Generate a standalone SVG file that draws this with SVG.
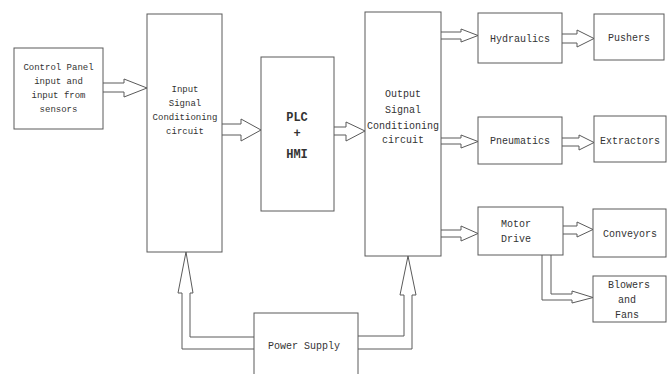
<svg xmlns="http://www.w3.org/2000/svg" width="670" height="374" viewBox="0 0 670 374">
<style>
  .box { fill: #ffffff; stroke: #5a5a5a; stroke-width: 1; }
  .arr { fill: #ffffff; stroke: #5a5a5a; stroke-width: 1; stroke-linejoin: miter; }
  text { font-family: "Liberation Mono", "DejaVu Sans Mono", monospace; fill: #333333; text-anchor: middle; }
  .s9 { font-size: 9px; }
  .s10 { font-size: 10px; }
  .big { font-size: 12px; font-weight: bold; }
</style>
<rect width="670" height="374" fill="#ffffff"/>
<g id="connectors">
  <path class="arr" d="M103,83 H124 V79 L147,88 L124,97 V92 H103"/>
  <path class="arr" d="M222,124 H241 V119 L261,130 L241,141 V135 H222"/>
  <path class="arr" d="M334,127 H346 V122 L365,131 L346,141 V135 H334"/>
  <path class="arr" d="M441,32 H461 V29 L478,35.5 L461,42 V39 H441"/>
  <path class="arr" d="M562,34 H577 V30 L594,38.5 L577,47 V43 H562"/>
  <path class="arr" d="M441,138 H461 V135 L478,141.5 L461,148 V144 H441"/>
  <path class="arr" d="M562,138 H579 V135 L594,142.5 L579,150 V146 H562"/>
  <path class="arr" d="M441,230 H461 V226 L478,233.5 L461,241 V237 H441"/>
  <path class="arr" d="M563,226 H577 V222 L593,229.5 L577,237 V234 H563"/>
  <path class="arr" d="M542,255 V300 H572 V303 L593,297.5 L572,291 V294 H551 V255"/>
  <path class="arr" d="M254,349 H182 V293 H178 L186,252 L193,293 H190 V337 H254"/>
  <path class="arr" d="M358,336 H404 V295 H400 L408,256 L416,295 H412 V349 H358"/>
</g>
<g id="control-panel">
  <rect class="box" x="14" y="48" width="89" height="81"/>
  <text class="s9" x="58.5" y="70">Control Panel</text>
  <text class="s9" x="58.5" y="84">input and</text>
  <text class="s9" x="58.5" y="98">input from</text>
  <text class="s9" x="58.5" y="112">sensors</text>
</g>
<g id="input-sc">
  <rect class="box" x="147" y="14" width="75" height="238"/>
  <text class="s9" x="185" y="92">Input</text>
  <text class="s9" x="185" y="106">Signal</text>
  <text class="s9" x="185" y="120">Conditioning</text>
  <text class="s9" x="185" y="134">circuit</text>
</g>
<g id="plc">
  <rect class="box" x="261" y="57" width="73" height="154"/>
  <text class="big" x="297" y="121">PLC</text>
  <text class="big" x="297" y="137">+</text>
  <text class="big" x="297" y="158">HMI</text>
</g>
<g id="output-sc">
  <rect class="box" x="365" y="12" width="76" height="244"/>
  <text class="s10" x="403" y="97">Output</text>
  <text class="s10" x="403" y="113">Signal</text>
  <text class="s10" x="403" y="129">Conditioning</text>
  <text class="s10" x="403" y="143">circuit</text>
</g>
<g id="hydraulics">
  <rect class="box" x="478" y="13" width="84" height="50"/>
  <text class="s10" x="520" y="42">Hydraulics</text>
</g>
<g id="pushers">
  <rect class="box" x="594" y="14" width="70" height="46"/>
  <text class="s10" x="629" y="41">Pushers</text>
</g>
<g id="pneumatics">
  <rect class="box" x="478" y="117" width="84" height="47"/>
  <text class="s10" x="520" y="144">Pneumatics</text>
</g>
<g id="extractors">
  <rect class="box" x="594" y="116" width="72" height="46"/>
  <text class="s10" x="630" y="144">Extractors</text>
</g>
<g id="motor-drive">
  <rect class="box" x="478" y="207" width="85" height="48"/>
  <text class="s10" x="516" y="227">Motor</text>
  <text class="s10" x="516" y="242">Drive</text>
</g>
<g id="conveyors">
  <rect class="box" x="593" y="209" width="73" height="48"/>
  <text class="s10" x="630" y="237">Conveyors</text>
</g>
<g id="blowers">
  <rect class="box" x="593" y="276" width="73" height="46"/>
  <text class="s10" x="629" y="288">Blowers</text>
  <text class="s10" x="627" y="303">and</text>
  <text class="s10" x="627" y="318">Fans</text>
</g>
<g id="power-supply">
  <rect class="box" x="254" y="313" width="104" height="70"/>
  <text class="s10" x="304" y="349">Power Supply</text>
</g>
</svg>
